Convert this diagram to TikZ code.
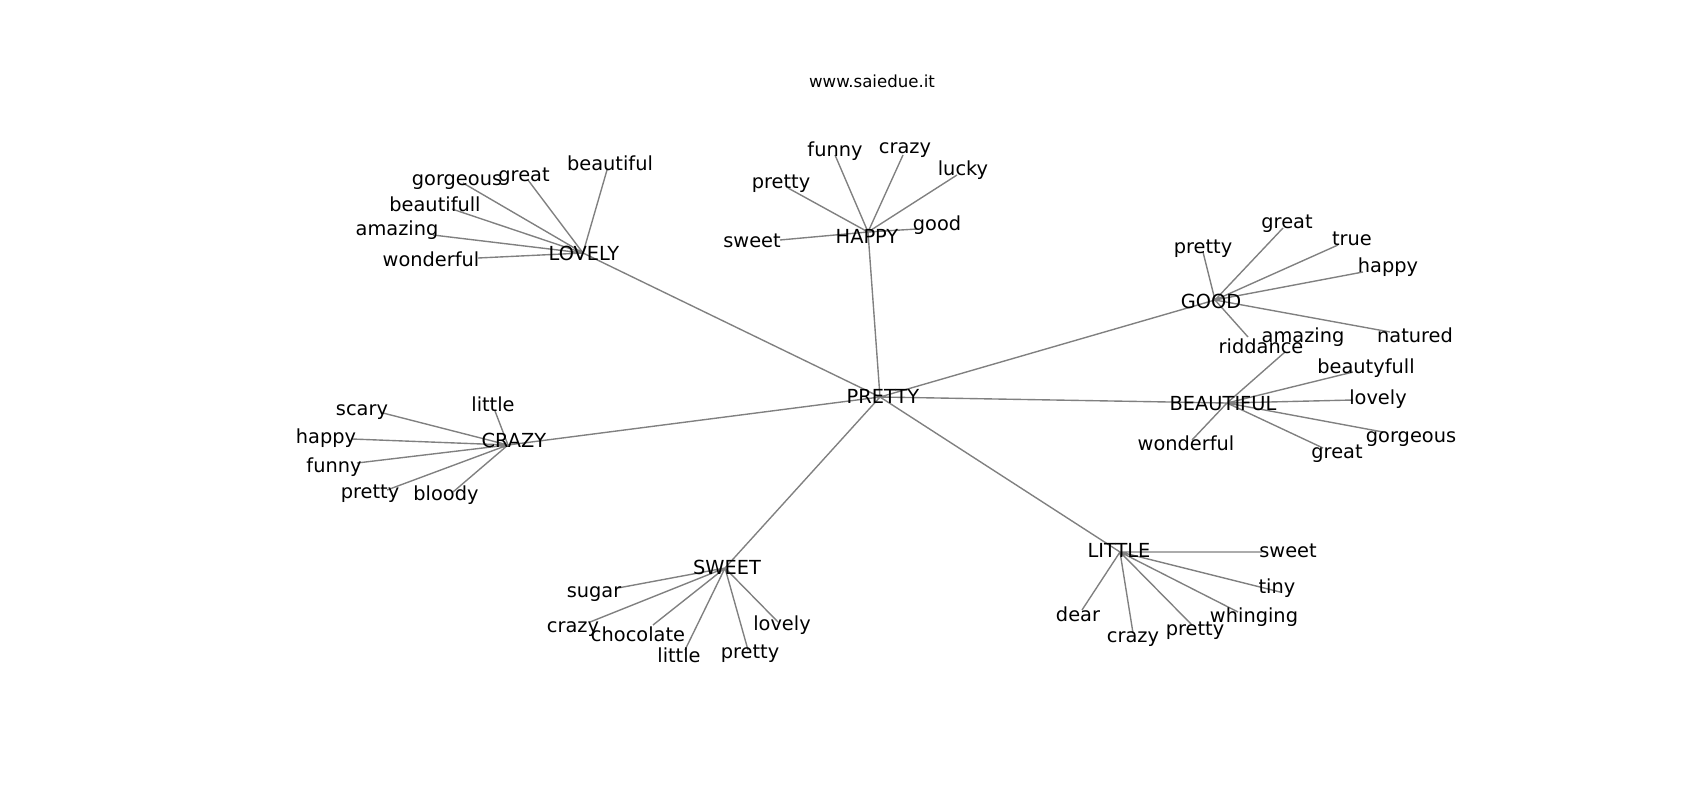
\documentclass[tikz,border=0pt]{standalone}
\usepackage{fontspec}
\setmainfont{DejaVu Sans}
\usetikzlibrary{positioning}

\begin{document}
\begin{tikzpicture}[x=0.72bp,y=-0.72bp,
    edge/.style={gray,line width=1pt},
    word/.style={anchor=base,inner sep=0pt,font=\fontsize{14}{17}\selectfont},
    title/.style={anchor=base,inner sep=0pt,font=\fontsize{12}{14}\selectfont}]
\useasboundingbox (0,0) rectangle (1700,800);
\node[title] (site) at (872,87) {www.saiedue.it};
% hubs
\coordinate (pretty) at (880,397);
\coordinate (lovely) at (583,253);
\coordinate (happy) at (868,232);
\coordinate (good) at (1215,300);
\coordinate (beautiful) at (1227,403);
\coordinate (crazy) at (508,445);
\coordinate (sweet) at (725,568);
\coordinate (little) at (1120,552);
% leaves
\coordinate (lovely-beautiful) at (607,170);
\coordinate (lovely-great) at (528,180);
\coordinate (lovely-gorgeous) at (463,183);
\coordinate (lovely-beautifull) at (452,209);
\coordinate (lovely-amazing) at (433,235);
\coordinate (lovely-wonderful) at (478,258);
\coordinate (happy-funny) at (835,155);
\coordinate (happy-crazy) at (903,155);
\coordinate (happy-lucky) at (957,175);
\coordinate (happy-pretty) at (788,188);
\coordinate (happy-good) at (917,229);
\coordinate (happy-sweet) at (780,240);
\coordinate (good-pretty) at (1203,252);
\coordinate (good-great) at (1283,228);
\coordinate (good-true) at (1338,245);
\coordinate (good-happy) at (1363,272);
\coordinate (good-natured) at (1390,332);
\coordinate (good-riddance) at (1248,337);
\coordinate (beautiful-amazing) at (1285,352);
\coordinate (beautiful-beautyfull) at (1353,372);
\coordinate (beautiful-lovely) at (1353,400);
\coordinate (beautiful-gorgeous) at (1383,432);
\coordinate (beautiful-great) at (1323,448);
\coordinate (beautiful-wonderful) at (1192,440);
\coordinate (crazy-little) at (495,411);
\coordinate (crazy-scary) at (383,413);
\coordinate (crazy-happy) at (352,439);
\coordinate (crazy-funny) at (357,463);
\coordinate (crazy-pretty) at (387,490);
\coordinate (crazy-bloody) at (453,492);
\coordinate (sweet-sugar) at (618,588);
\coordinate (sweet-crazy) at (590,622);
\coordinate (sweet-chocolate) at (653,625);
\coordinate (sweet-little) at (685,650);
\coordinate (sweet-pretty) at (748,650);
\coordinate (sweet-lovely) at (778,622);
\coordinate (little-sweet) at (1262,552);
\coordinate (little-tiny) at (1280,592);
\coordinate (little-whinging) at (1238,612);
\coordinate (little-pretty) at (1192,625);
\coordinate (little-crazy) at (1133,633);
\coordinate (little-dear) at (1082,610);
% edges
\draw[edge]
    (pretty) -- (lovely) (pretty) -- (happy) (pretty) -- (good)
    (pretty) -- (beautiful) (pretty) -- (crazy) (pretty) -- (sweet)
    (pretty) -- (little)
    (lovely) -- (lovely-beautiful) (lovely) -- (lovely-great)
    (lovely) -- (lovely-gorgeous) (lovely) -- (lovely-beautifull)
    (lovely) -- (lovely-amazing) (lovely) -- (lovely-wonderful)
    (happy) -- (happy-funny) (happy) -- (happy-crazy)
    (happy) -- (happy-lucky) (happy) -- (happy-pretty)
    (happy) -- (happy-good) (happy) -- (happy-sweet)
    (good) -- (good-pretty) (good) -- (good-great)
    (good) -- (good-true) (good) -- (good-happy)
    (good) -- (good-natured) (good) -- (good-riddance)
    (beautiful) -- (beautiful-amazing) (beautiful) -- (beautiful-beautyfull)
    (beautiful) -- (beautiful-lovely) (beautiful) -- (beautiful-gorgeous)
    (beautiful) -- (beautiful-great) (beautiful) -- (beautiful-wonderful)
    (crazy) -- (crazy-little) (crazy) -- (crazy-scary)
    (crazy) -- (crazy-happy) (crazy) -- (crazy-funny)
    (crazy) -- (crazy-pretty) (crazy) -- (crazy-bloody)
    (sweet) -- (sweet-sugar) (sweet) -- (sweet-crazy)
    (sweet) -- (sweet-chocolate) (sweet) -- (sweet-little)
    (sweet) -- (sweet-pretty) (sweet) -- (sweet-lovely)
    (little) -- (little-sweet) (little) -- (little-tiny)
    (little) -- (little-whinging) (little) -- (little-pretty)
    (little) -- (little-crazy) (little) -- (little-dear);
% labels
\node[word] (pretty-t) at (883,403) {PRETTY};
\node[word] (lovely-t) at (584,260) {LOVELY};
\node[word] (happy-t) at (867,243) {HAPPY};
\node[word] (good-t) at (1211,308) {GOOD};
\node[word] (beautiful-t) at (1223,410) {BEAUTIFUL};
\node[word] (crazy-t) at (514,447) {CRAZY};
\node[word] (sweet-t) at (727,574) {SWEET};
\node[word] (little-t) at (1119,557) {LITTLE};
\node[word] (lovely-beautiful-t) at (610,170) {beautiful};
\node[word] (lovely-great-t) at (524,181) {great};
\node[word] (lovely-gorgeous-t) at (457,185) {gorgeous};
\node[word] (lovely-beautifull-t) at (435,211) {beautifull};
\node[word] (lovely-amazing-t) at (397,235) {amazing};
\node[word] (lovely-wonderful-t) at (431,266) {wonderful};
\node[word] (happy-funny-t) at (835,156) {funny};
\node[word] (happy-crazy-t) at (905,153) {crazy};
\node[word] (happy-lucky-t) at (963,175) {lucky};
\node[word] (happy-pretty-t) at (781,188) {pretty};
\node[word] (happy-good-t) at (937,230) {good};
\node[word] (happy-sweet-t) at (752,247) {sweet};
\node[word] (good-pretty-t) at (1203,253) {pretty};
\node[word] (good-great-t) at (1287,228) {great};
\node[word] (good-true-t) at (1352,245) {true};
\node[word] (good-happy-t) at (1388,272) {happy};
\node[word] (good-natured-t) at (1415,342) {natured};
\node[word] (good-riddance-t) at (1261,353) {riddance};
\node[word] (beautiful-amazing-t) at (1303,342) {amazing};
\node[word] (beautiful-beautyfull-t) at (1366,373) {beautyfull};
\node[word] (beautiful-lovely-t) at (1378,404) {lovely};
\node[word] (beautiful-gorgeous-t) at (1411,442) {gorgeous};
\node[word] (beautiful-great-t) at (1337,458) {great};
\node[word] (beautiful-wonderful-t) at (1186,450) {wonderful};
\node[word] (crazy-little-t) at (493,411) {little};
\node[word] (crazy-scary-t) at (362,415) {scary};
\node[word] (crazy-happy-t) at (326,443) {happy};
\node[word] (crazy-funny-t) at (334,472) {funny};
\node[word] (crazy-pretty-t) at (370,498) {pretty};
\node[word] (crazy-bloody-t) at (446,500) {bloody};
\node[word] (sweet-sugar-t) at (594,597) {sugar};
\node[word] (sweet-crazy-t) at (573,632) {crazy};
\node[word] (sweet-chocolate-t) at (638,641) {chocolate};
\node[word] (sweet-little-t) at (679,662) {little};
\node[word] (sweet-pretty-t) at (750,658) {pretty};
\node[word] (sweet-lovely-t) at (782,630) {lovely};
\node[word] (little-sweet-t) at (1288,557) {sweet};
\node[word] (little-tiny-t) at (1277,593) {tiny};
\node[word] (little-whinging-t) at (1254,622) {whinging};
\node[word] (little-pretty-t) at (1195,635) {pretty};
\node[word] (little-crazy-t) at (1133,642) {crazy};
\node[word] (little-dear-t) at (1078,621) {dear};
\end{tikzpicture}
\end{document}
